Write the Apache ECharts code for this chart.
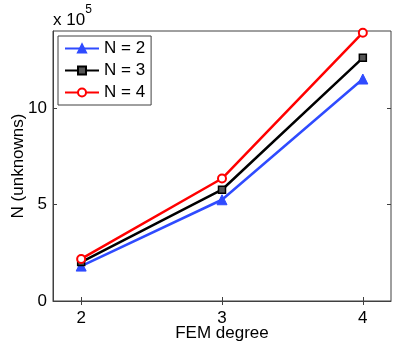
<!DOCTYPE html>
<html>
<head>
<meta charset="utf-8">
<script src="https://cdn.jsdelivr.net/npm/echarts@6/dist/echarts.min.js"></script>
<style>
  html, body { margin: 0; padding: 0; background: #fff; }
  #chart { width: 399px; height: 348px; }
</style>
</head>
<body>
<div id="chart"></div>
<script>
  // FEM degree on x, unknowns on y
  const degrees = [2, 3, 4]
  const xTicks = [2, 3, 4]
  const yTicks = [0, 500000, 1000000]
  const n2 = [181000, 525000, 1151000]
  const n3 = [202000, 577000, 1261000]
  const n4 = [218000, 635000, 1391000]

  const font = 'Liberation Sans, Arial, sans-serif'
  const axisColor = '#404040'

  function pts (vals) {
    return degrees.map((d, i) => [d, vals[i]])
  }

  function lineSeries (name, vals, color, symbol, size, fill, bw) {
    return {
      name: name,
      type: 'line',
      data: pts(vals),
      symbol: symbol,
      symbolSize: size,
      showAllSymbol: true,
      lineStyle: { color: color, width: 2.5 },
      itemStyle: { color: fill, borderColor: color, borderWidth: bw },
      emphasis: { disabled: true },
      animation: false,
    }
  }

  const chart = echarts.init(document.getElementById('chart'))
  const option = {
    backgroundColor: '#fff',
    animation: false,
    grid: {
      left: 53, right: 8, top: 31, bottom: 47,
      containLabel: false, outerBoundsMode: 'none',
      show: true, borderColor: axisColor, borderWidth: 1,
    },
    legend: {
      orient: 'vertical',
      left: 58, top: 36,
      padding: [4, 6, 4, 6],
      itemGap: 5,
      itemWidth: 34, itemHeight: 10,
      borderColor: axisColor, borderWidth: 1,
      backgroundColor: '#fff',
      textStyle: { fontFamily: font, fontSize: 17, lineHeight: 17, color: '#000' },
      data: ['N = 2', 'N = 3', 'N = 4'],
    },
    xAxis: [{
      type: 'value', min: 1.8, max: 4.2,
      name: 'FEM degree', nameLocation: 'middle', nameGap: 32, nameMoveOverlap: false,
      nameTextStyle: { fontFamily: font, fontSize: 17, color: '#000', verticalAlign: 'middle' },
      axisLine: { show: true, lineStyle: { color: axisColor } },
      axisTick: { show: true, inside: true, length: 4, customValues: xTicks, lineStyle: { color: axisColor } },
      axisLabel: { customValues: xTicks, fontFamily: font, fontSize: 17, color: '#000', margin: 9 },
      splitLine: { show: false },
    }, {
      type: 'value', min: 1.8, max: 4.2, position: 'top',
      axisLine: { show: false },
      axisTick: { show: true, inside: true, length: 4, customValues: xTicks, lineStyle: { color: axisColor } },
      axisLabel: { show: false },
      splitLine: { show: false },
    }],
    yAxis: [{
      type: 'value', min: 0, max: 1400000,
      name: 'N (unknowns)', nameLocation: 'middle', nameGap: 35, nameMoveOverlap: false,
      nameTextStyle: { fontFamily: font, fontSize: 17, color: '#000', verticalAlign: 'middle' },
      axisLine: { show: true, lineStyle: { color: axisColor } },
      axisTick: { show: true, inside: true, length: 4, customValues: yTicks, lineStyle: { color: axisColor } },
      axisLabel: {
        customValues: yTicks, fontFamily: font, fontSize: 17, color: '#000', margin: 6,
        formatter: v => String(v / 100000),
      },
      splitLine: { show: false },
    }, {
      type: 'value', min: 0, max: 1400000, position: 'right',
      axisLine: { show: false },
      axisTick: { show: true, inside: true, length: 4, customValues: yTicks, lineStyle: { color: axisColor } },
      axisLabel: { show: false },
      splitLine: { show: false },
    }],
    graphic: [{
      type: 'text', left: 53, top: 4,
      style: {
        text: '{a|x 10}{b|5}',
        rich: {
          a: { fontFamily: font, fontSize: 17, color: '#000', verticalAlign: 'bottom', padding: [8, 0, 0, 0] },
          b: { fontFamily: font, fontSize: 12, color: '#000', verticalAlign: 'top' },
        },
      },
    }],
    series: [
      lineSeries('N = 2', n2, '#2f4bff', 'triangle', 10, '#2f4bff', 1),
      lineSeries('N = 3', n3, '#000000', 'rect', 7, '#555', 1.5),
      lineSeries('N = 4', n4, '#ff0000', 'emptyCircle', 8, '#ff0000', 1.8),
    ],
  }
  chart.setOption(option)
</script>
</body>
</html>
